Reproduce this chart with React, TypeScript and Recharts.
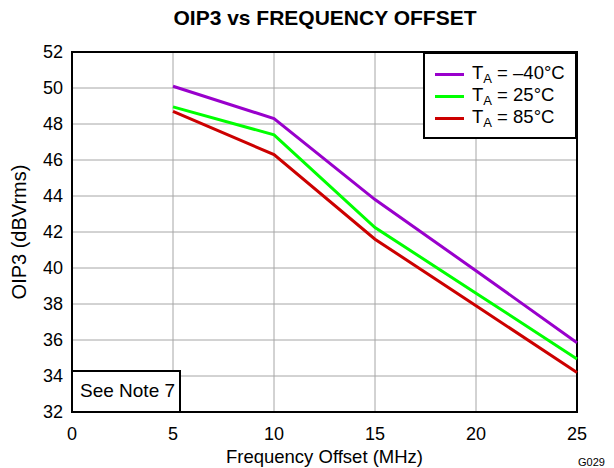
import React from 'react';
import {
  LineChart,
  Line,
  XAxis,
  YAxis,
  CartesianGrid,
  ReferenceArea,
  Legend,
} from 'recharts';

const frequencies = [5, 10, 15, 20, 25];
const oip3Cold = [50.1, 48.3, 43.8, 39.85, 35.85];
const oip3Room = [48.95, 47.4, 42.25, 38.6, 34.95];
const oip3Hot = [48.7, 46.3, 41.6, 37.9, 34.2];
const tempLabels = ['\u201340\u00b0C', '25\u00b0C', '85\u00b0C'];
const xTicks = [0, 5, 10, 15, 20, 25];
const yTicks = [32, 34, 36, 38, 40, 42, 44, 46, 48, 50, 52];

const colors = ['#9900cc', '#00ff00', '#cc0000'];
const font = '"Liberation Sans", Arial, sans-serif';

const data = frequencies.map((f, i) => ({
  freq: f,
  cold: oip3Cold[i],
  room: oip3Room[i],
  hot: oip3Hot[i],
}));

// legend rows come straight from the label/colour lists so the order stays fixed
function LegendBox() {
  return (
    <div
      style={{
        border: '2px solid #000',
        background: '#fff',
        width: 150,
        height: 83,
        boxSizing: 'content-box',
        fontFamily: font,
        fontSize: 18.5,
        color: '#000',
      }}
    >
      {tempLabels.map((t, i) => (
        <div
          key={t}
          style={{
            display: 'flex',
            alignItems: 'center',
            height: 22,
            marginTop: i === 0 ? 9 : 0,
            whiteSpace: 'nowrap',
          }}
        >
          <span
            style={{
              display: 'inline-block',
              width: 29,
              height: 3,
              background: colors[i],
              marginLeft: 10,
              marginRight: 8,
            }}
          />
          <span>
            T<sub style={{ fontSize: 13, verticalAlign: '-4px' }}>A</sub> = {t}
          </span>
        </div>
      ))}
    </div>
  );
}

function YLabel({ viewBox }: any) {
  const cy = viewBox.y + viewBox.height / 2;
  return (
    <text
      x={26}
      y={cy}
      transform={`rotate(-90 26 ${cy})`}
      textAnchor="middle"
      fontSize={20}
      fontFamily={font}
      fill="#000"
    >
      OIP3 (dBVrms)
    </text>
  );
}

export default function App() {
  return (
    <div
      style={{
        position: 'absolute',
        left: 0,
        top: 0,
        width: 614,
        height: 468,
        background: '#fff',
        fontFamily: font,
      }}
    >
      <div
        style={{
          position: 'absolute',
          left: 0,
          width: 650,
          top: 7,
          textAlign: 'center',
          fontWeight: 'bold',
          fontSize: 21,
          lineHeight: '21px',
          color: '#000',
        }}
      >
        OIP3 vs FREQUENCY OFFSET
      </div>
      <LineChart
        width={614}
        height={468}
        data={data}
        margin={{ top: 52, right: 37, left: 0, bottom: 0 }}
      >
        <CartesianGrid stroke="#a6a6a6" strokeWidth={1} />
        <XAxis
          dataKey="freq"
          type="number"
          domain={[0, 25]}
          ticks={xTicks}
          height={56}
          tickLine={false}
          axisLine={false}
          tickMargin={9}
          tick={{ fill: '#000', fontSize: 18, fontFamily: font }}
          label={{
            value: 'Frequency Offset (MHz)',
            position: 'insideBottom',
            offset: 5,
            fill: '#000',
            fontSize: 18.5,
            fontFamily: font,
          }}
        />
        <YAxis
          type="number"
          domain={[32, 52]}
          ticks={yTicks}
          width={72}
          tickLine={false}
          axisLine={false}
          tickMargin={3}
          tick={{ fill: '#000', fontSize: 18, fontFamily: font }}
          label={<YLabel />}
        />
        <ReferenceArea
          x1={0}
          x2={25}
          y1={32}
          y2={52}
          fill="none"
          stroke="#000"
          strokeWidth={2}
          ifOverflow="visible"
        />
        <Line
          dataKey="cold"
          name={tempLabels[0]}
          stroke={colors[0]}
          strokeWidth={3}
          dot={false}
          isAnimationActive={false}
        />
        <Line
          dataKey="room"
          name={tempLabels[1]}
          stroke={colors[1]}
          strokeWidth={3}
          dot={false}
          isAnimationActive={false}
        />
        <Line
          dataKey="hot"
          name={tempLabels[2]}
          stroke={colors[2]}
          strokeWidth={3}
          dot={false}
          isAnimationActive={false}
        />
        <Legend
          layout="vertical"
          align="center"
          verticalAlign="middle"
          content={<LegendBox />}
          wrapperStyle={{ left: 423, top: 52, width: 154 }}
        />
      </LineChart>
      <div
        style={{
          position: 'absolute',
          left: 71,
          top: 370,
          width: 110,
          height: 43,
          border: '2px solid #000',
          background: '#fff',
          fontSize: 19,
          lineHeight: '38px',
          paddingLeft: 7,
          boxSizing: 'border-box',
          color: '#000',
        }}
      >
        See Note 7
      </div>
      <div
        style={{
          position: 'absolute',
          left: 578,
          top: 456,
          fontSize: 11,
          color: '#000',
        }}
      >
        G029
      </div>
    </div>
  );
}
